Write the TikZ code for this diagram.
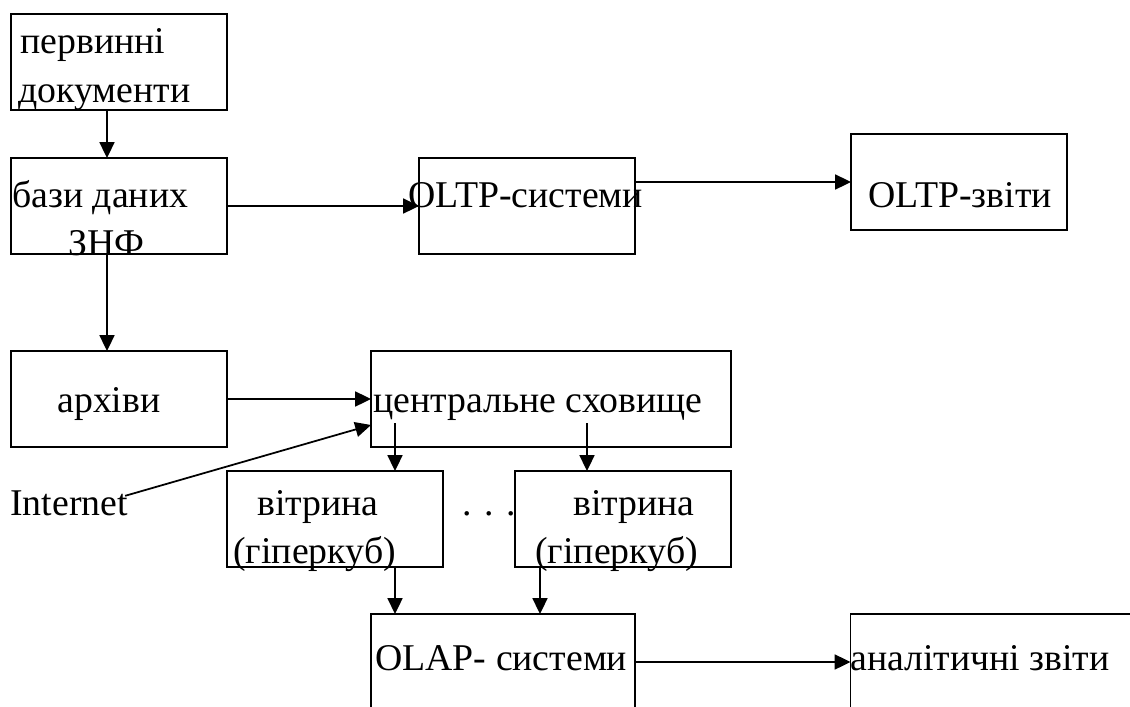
\documentclass[tikz,border=0pt]{standalone}
\usepackage{fontspec}
\setmainfont{Liberation Serif}
\usetikzlibrary{arrows.meta}
\usetikzlibrary{calc}

\begin{document}
\begin{tikzpicture}[x=0.02cm,y=-0.02cm]
\tikzset{>={Triangle[width=8.5pt,length=9pt]}}
\tikzstyle{block}=[draw, rectangle, line width=1pt, inner sep=0pt, outer sep=0pt, minimum height=1.92cm]
\tikzstyle{txt}=[inner sep=0pt, anchor=base west, font=\fontsize{21.5pt}{26pt}\selectfont]
\tikzstyle{conn}=[->, line width=1pt]

\clip (0,0) rectangle (1130,707);

% blocks
\node[block,minimum width=4.32cm](pd) at (119,62){};
\node[block,minimum width=4.32cm](bd) at (119,206){};
\node[block,minimum width=4.32cm](oltp) at (527,206){};
\node[block,minimum width=4.32cm](zvity) at (959,182){};
\node[block,minimum width=4.32cm](arch) at (119,399){};
\node[block,minimum width=7.2cm](centr) at (551,399){};
\node[block,minimum width=4.32cm](v1) at (335,519){};
\node[block,minimum width=4.32cm](v2) at (623,519){};
\node[block,minimum width=5.28cm](olap) at (503,662){};
\node[block,minimum width=6.78cm](anal) at (1020,662){};

% texts
\node[txt](pd1) at (20,53){первинні};
\node[txt](pd2) at (18,102){документи};
\node[txt](bd1) at (12,207){бази даних};
\node[txt](bd2) at (68,255){ЗНФ};
\node[txt](oltpt) at (408,207){OLTP-системи};
\node[txt](zvityt) at (868,207){OLTP-звіти};
\node[txt](archt) at (57,412){архіви};
\node[txt](centrt) at (373,412){центральне сховище};
\node[txt](inet) at (10,515){Internet};
\node[txt](v1a) at (257,515){вітрина};
\node[txt](v1b) at (233,563){(гіперкуб)};
\node[txt](dots) at (462,515){. . .};
\node[txt](v2a) at (573,515){вітрина};
\node[txt](v2b) at (535,563){(гіперкуб)};
\node[txt](olapt) at (375,670){OLAP- системи};
\node[txt](analt) at (850,670){аналітичні звіти};

% arrows
\draw[conn] ($(pd.south)+(-12,0)$) -- ($(bd.north)+(-12,0)$);
\draw[conn] (bd.east) -- (oltp.west);
\draw[conn] (oltp.east |- zvity.west) -- (zvity.west);
\draw[conn] ($(bd.south)+(-12,0)$) -- ($(arch.north)+(-12,0)$);
\draw[conn] (arch.east) -- (centr.west);
\draw[conn] ($(inet.east)+(-3,-7)$) -- ($(centr.west)+(0,26)$);
\draw[conn] ($(v1.north)+(60,-48)$) -- ($(v1.north)+(60,0)$);
\draw[conn] ($(v2.north)+(-36,-48)$) -- ($(v2.north)+(-36,0)$);
\draw[conn] ($(v1.south)+(60,0)$) -- ($(olap.north west)+(24,0)$);
\draw[conn] ($(v2.south)+(-83,0)$) -- ($(olap.north)+(37,0)$);
\draw[conn] (olap.east) -- (anal.west);

\end{tikzpicture}
\end{document}
